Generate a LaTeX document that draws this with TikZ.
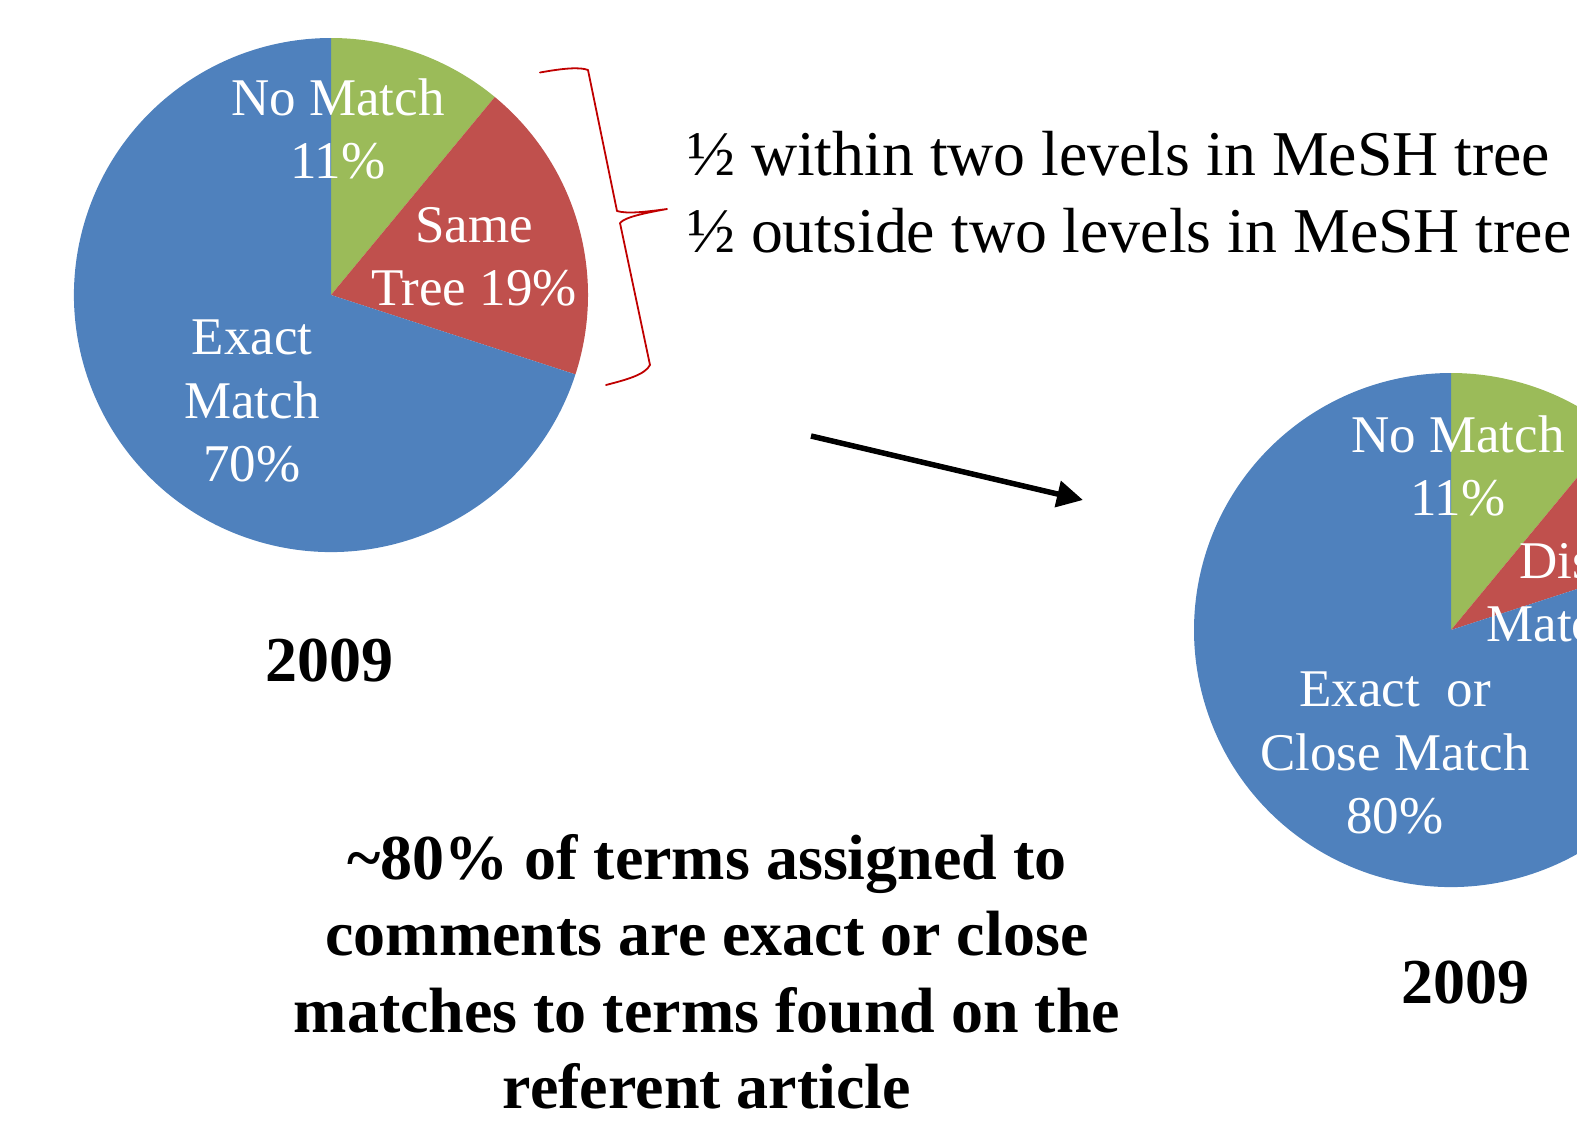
\documentclass[tikz,border=0pt]{standalone}
\usepackage{fontspec}
\setmainfont{Liberation Serif}
\usetikzlibrary{arrows.meta}
\definecolor{pieblue}{HTML}{4F81BD}
\definecolor{piered}{HTML}{C0504D}
\definecolor{piegreen}{HTML}{9BBB59}
\definecolor{bracered}{HTML}{C00000}
\begin{document}
\begin{tikzpicture}[x=1pt,y=-1pt,
  pielabel/.style={text=white,font=\fontsize{53}{63.5}\selectfont,align=center,inner sep=0pt},
  bigtext/.style={text=black,font=\fontsize{63.8}{76.5}\selectfont,inner sep=0pt},
  boldtext/.style={text=black,font=\fontsize{64}{76.5}\selectfont\bfseries,align=center,inner sep=0pt},
  bracepath/.style={draw=bracered,line width=1.8pt,line join=round,line cap=round},
  arrowpath/.style={draw=black,line width=5.5pt,-{Triangle[length=26pt,width=26pt]}}]
\useasboundingbox (0,0) rectangle (1577,1120);
\begin{scope}
\clip (0,0) rectangle (1577,1120);
% left pie
\begin{scope}[shift={(331,295)},yscale=-1]
  \fill[piegreen] (0,0) -- (90:257) arc[start angle=90,end angle=50.4,radius=257] -- cycle;
  \fill[piered] (0,0) -- (50.4:257) arc[start angle=50.4,end angle=-18,radius=257] -- cycle;
  \fill[pieblue] (0,0) -- (-18:257) arc[start angle=-18,end angle=-270,radius=257] -- cycle;
\end{scope}
% right pie
\begin{scope}[shift={(1451,630)},yscale=-1]
  \fill[piegreen] (0,0) -- (90:257) arc[start angle=90,end angle=50.4,radius=257] -- cycle;
  \fill[piered] (0,0) -- (50.4:257) arc[start angle=50.4,end angle=18,radius=257] -- cycle;
  \fill[pieblue] (0,0) -- (18:257) arc[start angle=18,end angle=-270,radius=257] -- cycle;
\end{scope}
% left pie labels
\node[pielabel] (nm1) at (338,129) {No Match\\11\%};
\node[pielabel] (st1) at (474,257) {Same\\Tree 19\%};
\node[pielabel] (em1) at (252,401) {Exact\\Match\\70\%};
% right pie labels
\node[pielabel] (nm2) at (1458,466) {No Match\\11\%};
\node[pielabel] (dm2) at (1596,593) {Distant\\Match 9\%};
\node[pielabel] (em2) at (1395,753) {Exact\ \ or\\Close Match\\80\%};
% years
\node[boldtext] (y1) at (329,661) {2009};
\node[boldtext] (y2) at (1465,983) {2009};
% MeSH text
\node[bigtext,anchor=west,align=left] (mesh) at (687,192) {½ within two levels in MeSH tree\\½ outside two levels in MeSH tree};
% bottom text
\node[boldtext] (summary) at (707,972) {\textasciitilde80\% of terms assigned to\\comments are exact or close\\matches to terms found on the\\referent article};
% brace
\path[bracepath] (540,72.5) .. controls (565,68) and (580,67) .. (588,70) -- (617,211)
  .. controls (627,214) and (645,212) .. (667,209)
  .. controls (645,213) and (625,217) .. (620,223) -- (650,365)
  .. controls (645,375) and (625,380) .. (606,385);
% arrow
\coordinate (a1) at (811,436);
\coordinate (a2) at (1083,500);
\path[arrowpath] (a1) -- (a2);
\end{scope}
\end{tikzpicture}
\end{document}
